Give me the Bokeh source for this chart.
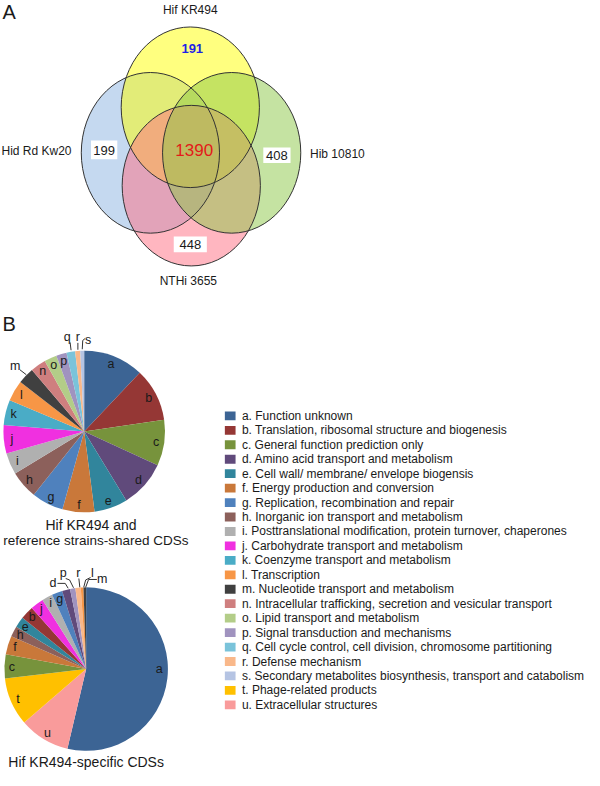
import math
from bokeh.plotting import figure
from bokeh.models import Range1d
from bokeh.core.properties import value
from bokeh.embed import file_html
from bokeh.resources import INLINE

FONT = "Liberation Sans"

# ---------------- data ----------------
venn_sets = ["Hif KR494", "Hid Rd Kw20", "Hib 10810", "NTHi 3655"]
venn_unique = [191, 199, 408, 448]
venn_core = 1390

cog_letters = list("abcdefghijklmnopqrstu")
cog_names = [
    "Function unknown",
    "Translation, ribosomal structure and biogenesis",
    "General function prediction only",
    "Amino acid transport and metabolism",
    "Cell wall/ membrane/ envelope biogensis",
    "Energy production and conversion",
    "Replication, recombination and repair",
    "Inorganic ion transport and metabolism",
    "Posttranslational modification, protein turnover, chaperones",
    "Carbohydrate transport and metabolism",
    "Coenzyme transport and metabolism",
    "Transcription",
    "Nucleotide transport and metabolism",
    "Intracellular trafficking, secretion and vesicular transport",
    "Lipid transport and metabolism",
    "Signal transduction and mechanisms",
    "Cell cycle control, cell division, chromosome partitioning",
    "Defense mechanism",
    "Secondary metabolites biosynthesis, transport and catabolism",
    "Phage-related products",
    "Extracellular structures",
]
cog_colors = [
    "#3c6494", "#953735", "#77933c", "#604a7b", "#31859c", "#c9783a",
    "#4f81bd", "#8c605b", "#b0b0b0", "#f030e0", "#4aacc6", "#f79646",
    "#404040", "#cf7f7f", "#b3cd88", "#a093bf", "#7ac3da", "#f9b88a",
    "#b5c4e3", "#ffc000", "#f99b9b",
]

shared_letters = list("abcdefghijklmnopqrs")
shared_counts = [168, 148, 128, 131, 93, 89, 89, 78, 60, 79, 70, 58, 46, 43, 35, 29, 24, 14, 11]

specific_letters = ["a", "u", "t", "c", "f", "h", "e", "b", "j", "i", "g", "d", "p", "r", "l", "m"]
specific_counts = [102, 19, 18, 9, 7, 4, 4, 5, 5, 4, 4, 3, 2, 2, 1, 1]

# ---------------- layout (image coordinates, y downward) ----------------
W_IMG, H_IMG = 600, 786


def Y(y):
    return H_IMG - y


color_of = dict(zip(cog_letters, cog_colors))

p = figure(width=584, height=770, x_range=Range1d(0, W_IMG), y_range=Range1d(0, H_IMG),
           output_backend="svg", toolbar_location=None, min_border=0,
           x_axis_location=None, y_axis_location=None, outline_line_color=None,
           background_fill_color="white", border_fill_color="white")
p.xgrid.visible = False
p.ygrid.visible = False


def txt(x, y, s, size, color="#1a1a1a", align="center", style="normal"):
    p.text(x=[x], y=[Y(y)], text=[s], text_font=value(FONT), text_font_size=size,
           text_align=align, text_baseline="middle", text_color=color,
           text_font_style=style)


# ---------------- Panel A: Venn ----------------
# draw order: Hid, Hif, NTHi, Hib
venn_geom = {
    "Hid Rd Kw20": (154, 155.5, "#8cb4e1"),
    "Hif KR494": (195, 109, "#ffff00"),
    "NTHi 3655": (196, 189, "#ff6e82"),
    "Hib 10810": (237.5, 155.5, "#8cc846"),
}
EW, EH = 142, 164
for name in ["Hid Rd Kw20", "Hif KR494", "NTHi 3655", "Hib 10810"]:
    cx, cy, col = venn_geom[name]
    p.ellipse(x=[cx], y=[Y(cy)], width=EW, height=EH, fill_color=col, fill_alpha=0.5,
              line_color=None)
for name in venn_sets:
    cx, cy, col = venn_geom[name]
    p.ellipse(x=[cx], y=[Y(cy)], width=EW, height=EH, fill_alpha=0,
              line_color="#333333", line_width=1)

txt(2, 12, "A", "20px", align="left")
txt(195, 9.5, venn_sets[0], "12px")
txt(1, 154, venn_sets[1], "12px", align="left")
txt(318, 157, venn_sets[2], "12px", align="left")
txt(193, 286, venn_sets[3], "12px")

# unique counts
txt(197, 49, str(venn_unique[0]), "13px", color="#1f1fe6", style="bold")
boxes = [(93, 120, 143, 162), (270, 298, 150, 166), (178, 212, 241, 257)]
for (l, r, t, b), v in zip(boxes, venn_unique[1:]):
    p.quad(left=[l], right=[r], top=[Y(t)], bottom=[Y(b)], fill_color="white", line_color=None)
    txt((l + r) / 2, (t + b) / 2 + 0.5, str(v), "13px")
txt(199, 153, str(venn_core), "17px", color="#e31a1a")

# ---------------- Panel B: pies ----------------
txt(2, 330, "B", "20px", align="left")


def draw_pie(letters, counts, cx, cy, r, label_f, outside, leaders):
    total = float(sum(counts))
    th = 0.0
    mids = {}
    for let, c in zip(letters, counts):
        t0 = th
        th += c / total * 2 * math.pi
        p.wedge(x=[cx], y=[Y(cy)], radius=r, start_angle=math.pi / 2 - th,
                end_angle=math.pi / 2 - t0, fill_color=color_of[let], line_color=None)
        mids[let] = (t0 + th) / 2
    for let in letters:
        if let in outside:
            lx, ly = outside[let]
        else:
            m = mids[let]
            lx = cx + label_f * r * math.sin(m)
            ly = cy - label_f * r * math.cos(m)
        txt(lx, ly, let, "12.5px")
    if leaders:
        p.multi_line(xs=[[pt[0] for pt in ln] for ln in leaders],
                     ys=[[Y(pt[1]) for pt in ln] for ln in leaders],
                     line_color="#333333", line_width=1)


shared_out = {"m": (15, 373), "q": (68.5, 343), "r": (79.5, 343), "s": (90, 346.5)}
shared_lead = [
    [(20, 377), (26.5, 382)],
    [(71.5, 349), (72.5, 357)],
    [(79.5, 349.5), (79.5, 356.5)],
    [(87, 345), (84.5, 347), (84, 356)],
]
draw_pie(shared_letters, shared_counts, 86, 440, 83, 0.9, shared_out, shared_lead)
txt(93, 535, "Hif KR494 and", "14px")
txt(98, 551.5, "reference strains-shared CDSs", "13.5px")

specific_out = {"a": (163, 682), "d": (54, 595), "p": (64.5, 584.5), "r": (80, 584.5),
                "l": (94.5, 584.5), "m": (104.5, 590.5)}
specific_lead = [
    [(58.5, 595), (66.5, 595), (69.5, 600)],
    [(67, 590), (71, 591.5), (75, 599.5)],
    [(80.5, 590), (81.5, 599)],
    [(92.5, 589), (87.5, 591.5), (85.5, 599)],
    [(99, 591), (90.5, 591), (87.5, 599)],
]
draw_pie(specific_letters, specific_counts, 88, 682.5, 84, 0.91, specific_out, specific_lead)
txt(88, 777, "Hif KR494-specific CDSs", "14px")

# ---------------- legend ----------------
for i, (let, name, col) in enumerate(zip(cog_letters, cog_names, cog_colors)):
    yy = 424 + i * 14.75
    p.rect(x=[236], y=[Y(yy)], width=11, height=9, fill_color=col, line_color=None)
    txt(248, yy, f"{let}. {name}", "12px", align="left")

open("out.html", "w").write(file_html(p, INLINE))
